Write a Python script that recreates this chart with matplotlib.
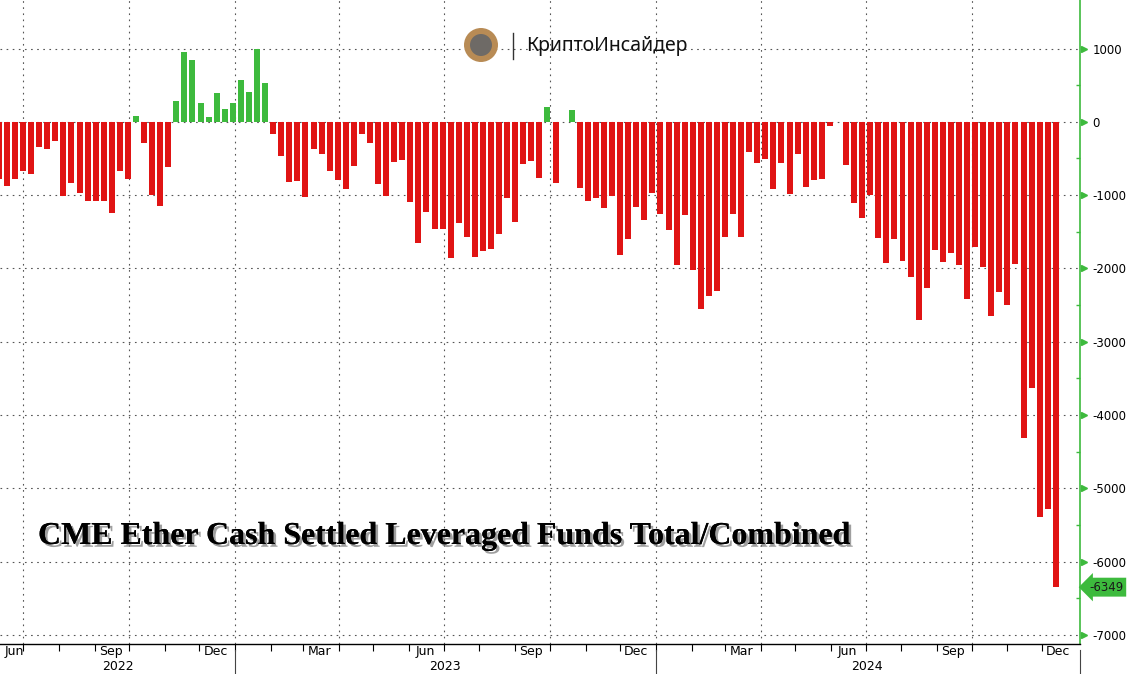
import matplotlib
matplotlib.use("Agg")
from matplotlib import pyplot as plt
from matplotlib import patheffects
from matplotlib.patches import Ellipse
import numpy as np
import pandas as pd

# weekly values (Fridays), Jun 2022 .. Dec 2024
dates = pd.date_range("2022-06-10", periods=132, freq="7D")
values = [
    -780, -880, -785, -665, -715, -350, -375, -265, -1010, -840,
    -965, -1085, -1075, -1075, -1250, -675, -785, 75, -295, -1000,
    -1155, -610, 285, 950, 842, 258, 68, 394, 176, 258,
    570, 407, 1000, 529, -172, -471, -824, -810, -1027, -376,
    -443, -674, -796, -912, -604, -171, -293, -847, -1018, -550,
    -523, -1090, -1658, -1225, -1468, -1459, -1860, -1387, -1572, -1847,
    -1766, -1739, -1536, -1036, -1365, -577, -532, -773, 205, -836,
    0, 164, -909, -1086, -1045, -1182, -1018, -1823, -1605, -1159,
    -1345, -977, -1264, -1482, -1959, -1277, -2027, -2559, -2382, -2314,
    -1577, -1264, -1568, -418, -568, -514, -923, -568, -991, -445,
    -895, -800, -786, -55, 0, -591, -1114, -1318, -1000, -1586,
    -1927, -1605, -1900, -2123, -2709, -2273, -1755, -1918, -1795, -1959,
    -2414, -1709, -1982, -2645, -2327, -2495, -1936, -4318, -3636, -5396,
    -5287, -6349,
]
last_value = -6349
y_ticks = list(range(-7000, 1001, 1000))
quarter_starts = pd.to_datetime(["2022-07-01", "2022-10-01", "2023-01-01", "2023-04-01",
                                 "2023-07-01", "2023-10-01", "2024-01-01", "2024-04-01",
                                 "2024-07-01", "2024-10-01"])
month_starts = pd.date_range("2022-07-01", "2024-12-01", freq="MS")
month_labels = ["Jun", "Sep", "Dec", "Mar", "Jun", "Sep", "Dec", "Mar", "Jun", "Sep", "Dec"]
month_label_dates = pd.to_datetime(["2022-06-23", "2022-09-15", "2022-12-15", "2023-03-15",
                                    "2023-06-15", "2023-09-15", "2023-12-15", "2024-03-15",
                                    "2024-06-15", "2024-09-15", "2024-12-15"])
years = ["2022", "2023", "2024"]
year_centers = pd.to_datetime(["2022-09-21", "2023-07-02", "2024-07-02"])
year_breaks = pd.to_datetime(["2023-01-01", "2024-01-01", "2025-01-03"])

RED = "#e01414"
GREEN = "#3dba3d"
W, H = 1128, 674

fig = plt.figure(figsize=(W / 100, H / 100), dpi=100)
ax_bottom = 643.6
ax = fig.add_axes([0, (H - ax_bottom) / H, 1080 / W, ax_bottom / H])

vals = np.array(values, dtype=float)
colors = [GREEN if v > 0 else RED for v in vals]
ax.bar(dates, vals, width=5.2, color=colors, zorder=3)

ax.set_xlim(pd.Timestamp("2022-06-11"), pd.Timestamp("2025-01-03"))
ax.set_ylim(-7119, 1662)

# grid
for y in y_ticks:
    ax.axhline(y, color="#555555", lw=0.8, ls=(0, (1.5, 4)), zorder=1)
for d in quarter_starts:
    ax.axvline(d, color="#555555", lw=0.8, ls=(0, (1.5, 4)), zorder=1)

# spines
for s in ["top", "left"]:
    ax.spines[s].set_visible(False)
ax.spines["right"].set_color(GREEN)
ax.spines["right"].set_linewidth(1.2)
ax.spines["bottom"].set_color("black")
ax.spines["bottom"].set_linewidth(1.0)

# right axis
ax.yaxis.tick_right()
ax.set_yticks(y_ticks)
ax.set_yticklabels([str(t) for t in y_ticks])
ax.tick_params(axis="y", which="major", length=0, pad=9, labelsize=8.5, labelcolor="black")
ax.set_yticks([t + 500 for t in y_ticks[:-1]], minor=True)
ax.tick_params(axis="y", which="minor", length=3, direction="in", color=GREEN, width=1)
ax.plot([1.0 + 4 / 1080] * len(y_ticks), y_ticks, marker=">", ls="none", ms=5,
        color=GREEN, transform=ax.get_yaxis_transform(), clip_on=False, zorder=5)

# last value tag
ax.text(1.0 + 9 / 1080, last_value, str(last_value), transform=ax.get_yaxis_transform(),
        ha="left", va="center", fontsize=8.5, color="#1a1a1a",
        bbox=dict(boxstyle="larrow,pad=0.25", fc=GREEN, ec="none"), clip_on=False, zorder=6)

# bottom axis
ax.set_xticks(month_starts)
ax.set_xticklabels([])
ax.tick_params(axis="x", which="major", length=5, direction="out", color="black", width=0.8)
xt = ax.get_xaxis_transform()
for lab, d in zip(month_labels, month_label_dates):
    ax.text(d, -0.0125, lab, transform=xt, ha="center", va="center", fontsize=9, clip_on=False)
for lab, d in zip(years, year_centers):
    ax.text(d, -0.036, lab, transform=xt, ha="center", va="center", fontsize=9, clip_on=False)
for d in year_breaks:
    ax.plot([d, d], [-0.01, -0.05], transform=xt, color="#444444", lw=0.8, clip_on=False)

# title
fig.text(38 / W, 1 - 544 / H, "CME Ether Cash Settled Leveraged Funds Total/Combined",
         family="Liberation Serif", weight="bold", fontsize=23, color="black",
         path_effects=[patheffects.withSimplePatchShadow(offset=(2, -2), shadow_rgbFace="#777777", alpha=0.7),
                       patheffects.Normal()])

# logo
fig.add_artist(Ellipse((481 / W, 1 - 45 / H), 34 / W, 34 / H, transform=fig.transFigure,
                       fc="#b88b55", ec="none"))
fig.add_artist(Ellipse((481 / W, 1 - 45 / H), 22 / W, 22 / H, transform=fig.transFigure,
                       fc="#6e6a66", ec="none"))
fig.add_artist(plt.Line2D([513 / W, 513 / W], [1 - 33 / H, 1 - 59 / H], transform=fig.transFigure,
                          color="#333333", lw=1))
fig.text(526 / W, 1 - 46 / H, "КриптоИнсайдер", family="Noto Sans", fontsize=14,
         ha="left", va="center", color="#111111")

fig.savefig("out.png", dpi=100, facecolor="white")
